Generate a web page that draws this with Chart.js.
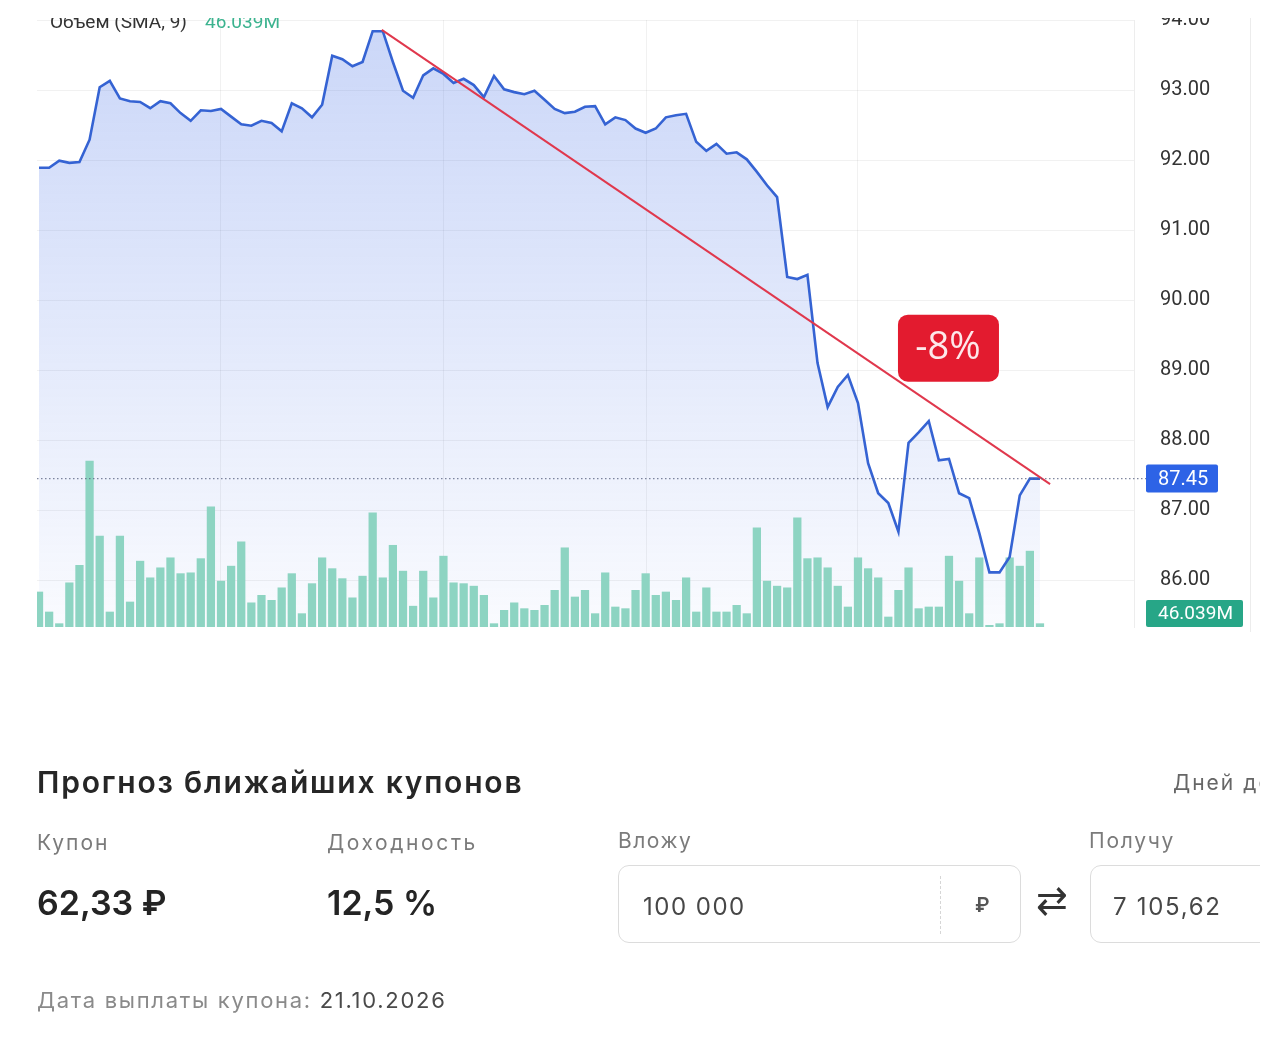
<!DOCTYPE html>
<html>
<head>
<meta charset="utf-8">
<script src="https://cdn.jsdelivr.net/npm/chart.js@4.4.0/dist/chart.umd.min.js"></script>
<style>
  body { margin: 0; background: #fff; width: 1280px; height: 1052px; overflow: hidden; position: relative; font-family: Inter, "Noto Sans", sans-serif; }
  #wrap { position: absolute; left: 0; top: 0; width: 1280px; height: 650px; }
  #cut { position: absolute; left: 0; top: 0; width: 1280px; height: 18px; background: #fff; }
  #info { position: absolute; left: 0; top: 0; width: 1260px; height: 1052px; overflow: hidden; }
  .t { position: absolute; white-space: nowrap; line-height: 1; }
  .title { left: 37px; top: 767px; font-size: 30px; font-weight: 600; color: #262626; letter-spacing: 1.8px; }
  .lbl { font-size: 21px; color: #7b7b7b; letter-spacing: 2px; }
  .big { font-size: 34px; font-weight: 600; color: #242424; }
  .box { position: absolute; top: 865px; height: 78px; border: 1.5px solid #dcdcdc; border-radius: 11px; box-sizing: border-box; }
  .val { font-size: 24px; color: #474747; letter-spacing: 1.5px; }
</style>
</head>
<body>
<div id="wrap"><canvas id="chart" width="1280" height="650"></canvas></div>
<div id="cut"></div>

<div id="info">
  <div class="t title">Прогноз ближайших купонов</div>
  <div class="t lbl" style="left:1173px;top:772px;color:#666">Дней до</div>

  <div class="t lbl" style="left:37px;top:832px">Купон</div>
  <div class="t lbl" style="left:327px;top:832px;letter-spacing:2.6px">Доходность</div>
  <div class="t lbl" style="left:618px;top:830px;letter-spacing:1.5px">Вложу</div>
  <div class="t lbl" style="left:1089px;top:830px;letter-spacing:1.8px">Получу</div>

  <div class="t big" style="left:37px;top:886px">62,33 ₽</div>
  <div class="t big" style="left:327px;top:886px">12,5 %</div>

  <div class="box" style="left:618px;width:403px"></div>
  <div style="position:absolute;left:940px;top:876px;height:58px;border-left:1px dashed #d6d6d6"></div>
  <div class="t val" style="left:643px;top:895px">100 000</div>
  <div class="t val" style="left:975px;top:895px;font-size:20px;font-weight:600;color:#555;letter-spacing:0">₽</div>
  <div class="t" style="left:1036px;top:880px;font-size:38px;color:#333">⇄</div>
  <div class="box" style="left:1090px;width:260px"></div>
  <div class="t val" style="left:1113px;top:895px;letter-spacing:1.7px">7 105,62</div>

  <div class="t" style="left:37px;top:989px;font-size:22px;color:#8a8a8a;letter-spacing:1.7px">Дата выплаты купона: <span style="color:#4a4a4a">21.10.2026</span></div>
</div>

<script>
// price ticks on the right axis
const priceTicks = [86, 87, 88, 89, 90, 91, 92, 93, 94];
// positions (bar index) of the vertical grid lines
const gridIdx = [17.9, 40, 60.1, 81];

// closing prices, one per session
const prices = [
  91.89, 91.89, 91.99, 91.96, 91.97, 92.29, 93.04, 93.13, 92.88, 92.84,
  92.83, 92.74, 92.84, 92.81, 92.67, 92.56, 92.71, 92.70, 92.73, 92.62,
  92.51, 92.49, 92.56, 92.53, 92.41, 92.81, 92.74, 92.61, 92.79, 93.49,
  93.44, 93.34, 93.40, 93.84, 93.84, 93.40, 92.99, 92.89, 93.21, 93.31,
  93.23, 93.10, 93.16, 93.07, 92.90, 93.20, 93.01, 92.97, 92.94, 92.99,
  92.86, 92.73, 92.67, 92.69, 92.76, 92.77, 92.51, 92.61, 92.57, 92.45,
  92.39, 92.45, 92.61, 92.64, 92.66, 92.26, 92.13, 92.23, 92.09, 92.11,
  92.01, 91.83, 91.64, 91.47, 90.33, 90.30, 90.36, 89.10, 88.47, 88.76,
  88.93, 88.53, 87.67, 87.24, 87.10, 86.69, 87.96, 88.11, 88.27, 87.71,
  87.73, 87.24, 87.17, 86.67, 86.11, 86.11, 86.33, 87.21, 87.45, 87.45
];

// traded volume, millions
const volumes = [
  42, 18, 4, 53, 74, 199, 109, 18, 109, 30,
  79, 59, 71, 83, 64, 65, 82, 144, 55, 73,
  102, 29, 38, 32, 47, 64, 16, 52, 83, 70,
  58, 35, 61, 137, 59, 98, 67, 25, 67, 35,
  85, 53, 52, 49, 38, 4, 20, 29, 22, 20,
  26, 44, 95, 36, 44, 16, 65, 24, 22, 44,
  64, 38, 42, 32, 59, 18, 47, 18, 18, 26,
  16, 119, 55, 49, 47, 131, 82, 83, 71, 49,
  24, 83, 70, 59, 12, 44, 71, 22, 24, 24,
  85, 55, 16, 83, 2, 4, 83, 73, 91, 4
];

// trend line drawn from the peak to the last close
const trendIdx = [33.9, 100];
const trendVal = [93.86, 87.37];

const lastPrice = 87.45;
const volumeSma = '46.039M';
const dropLabel = '-8%';
const dropAt = { x: 89.9, y: 89.32 };

const pricePts = prices.map((v, i) => ({ x: i, y: v }));
const volPts = volumes.map((v, i) => ({ x: i, y: v }));
const trendPts = trendIdx.map((x, i) => ({ x: x, y: trendVal[i] }));

const extras = {
  id: 'extras',
  afterDraw(chart) {
    const { ctx, chartArea, scales } = chart;
    const yP = scales.y.getPixelForValue(lastPrice);
    ctx.save();

    // dotted line at last price
    ctx.strokeStyle = 'rgba(85,95,125,0.75)';
    ctx.lineWidth = 1.2;
    ctx.setLineDash([1.5, 2.5]);
    ctx.beginPath();
    ctx.moveTo(chartArea.left, yP);
    ctx.lineTo(1146, yP);
    ctx.stroke();
    ctx.setLineDash([]);

    // panel border
    ctx.strokeStyle = '#ececec';
    ctx.lineWidth = 1;
    ctx.beginPath();
    ctx.moveTo(1250.5, 0);
    ctx.lineTo(1250.5, chartArea.bottom + 5);
    ctx.stroke();

    // last price tag
    ctx.fillStyle = '#2d63e6';
    ctx.beginPath();
    ctx.roundRect(1146, yP - 14, 72, 28, 2);
    ctx.fill();
    ctx.fillStyle = '#fff';
    ctx.font = '20px Roboto';
    ctx.textBaseline = 'middle';
    ctx.textAlign = 'left';
    ctx.fillText(lastPrice.toFixed(2), 1158, yP + 1);

    // volume tag
    ctx.fillStyle = '#27a687';
    ctx.beginPath();
    ctx.roundRect(1146, chartArea.bottom - 27, 97, 27, 2);
    ctx.fill();
    ctx.fillStyle = '#fff';
    ctx.font = '19px Roboto';
    ctx.fillText(volumeSma, 1158, chartArea.bottom - 13);

    // legend line at the top
    ctx.textBaseline = 'alphabetic';
    ctx.font = '19px Roboto';
    ctx.fillStyle = '#333';
    ctx.fillText('Объем (SMA, 9)', 50, 28);
    ctx.fillStyle = '#3cb38f';
    ctx.fillText(volumeSma, 205, 28);

    // drop badge
    const bx = scales.x.getPixelForValue(dropAt.x);
    const by = scales.y.getPixelForValue(dropAt.y);
    ctx.fillStyle = '#e31b2f';
    ctx.beginPath();
    ctx.roundRect(bx - 50, by - 33, 101, 67, 10);
    ctx.fill();
    ctx.fillStyle = '#fde8ea';
    ctx.font = '38px "Open Sans"';
    ctx.textAlign = 'center';
    ctx.textBaseline = 'middle';
    ctx.fillText(dropLabel, bx, by + 1);
    ctx.restore();
  }
};

new Chart(document.getElementById('chart'), {
  type: 'bar',
  data: {
    datasets: [
      {
        type: 'line',
        label: 'trend',
        data: trendPts,
        borderColor: '#e0384d',
        borderWidth: 2,
        pointRadius: 0,
        fill: false,
        order: -1
      },
      {
        type: 'line',
        label: 'price',
        data: pricePts,
        borderColor: '#3563d3',
        borderWidth: 2.6,
        pointRadius: 0,
        tension: 0,
        fill: 'start',
        backgroundColor: (c) => {
          const area = c.chart.chartArea;
          if (!area) return 'rgba(80,120,230,0.2)';
          const g = c.chart.ctx.createLinearGradient(0, area.top, 0, area.bottom);
          g.addColorStop(0, 'rgba(80,120,232,0.30)');
          g.addColorStop(0.5, 'rgba(80,120,232,0.17)');
          g.addColorStop(1, 'rgba(80,120,232,0.03)');
          return g;
        },
        order: 0
      },
      {
        type: 'bar',
        label: 'volume',
        data: volPts,
        yAxisID: 'y2',
        backgroundColor: '#8dd4c2',
        barThickness: 7.6,
        order: 1
      }
    ]
  },
  options: {
    responsive: false,
    animation: false,
    layout: { padding: { left: 37, top: 20, right: 0, bottom: 23 } },
    plugins: {
      legend: { display: false },
      tooltip: { enabled: false },
      filler: { drawTime: 'beforeDatasetsDraw' }
    },
    scales: {
      x: {
        type: 'linear',
        min: -0.2,
        max: 108.3,
        offset: false,
        afterBuildTicks: (s) => { s.ticks = gridIdx.map(v => ({ value: v })); },
        afterFit: (s) => { s.height = 0; s.paddingLeft = 0; s.paddingRight = 0; },
        ticks: { display: false },
        grid: { color: 'rgba(0,0,0,0.055)', drawTicks: false, offset: false },
        border: { display: false }
      },
      y: {
        position: 'right',
        min: 85.33,
        max: 94,
        afterBuildTicks: (s) => { s.ticks = priceTicks.map(v => ({ value: v })); },
        afterFit: (s) => { s.width = 146; s.paddingTop = 0; s.paddingBottom = 0; },
        ticks: {
          padding: 26,
          color: '#333',
          font: { family: 'Roboto', size: 20 },
          callback: (v) => Number(v).toFixed(2)
        },
        grid: { color: 'rgba(0,0,0,0.055)', drawTicks: false },
        border: { display: true, color: 'rgba(0,0,0,0.07)' }
      },
      y2: {
        display: false,
        min: 0,
        max: 728
      }
    }
  },
  plugins: [extras]
});
</script>
</body>
</html>
